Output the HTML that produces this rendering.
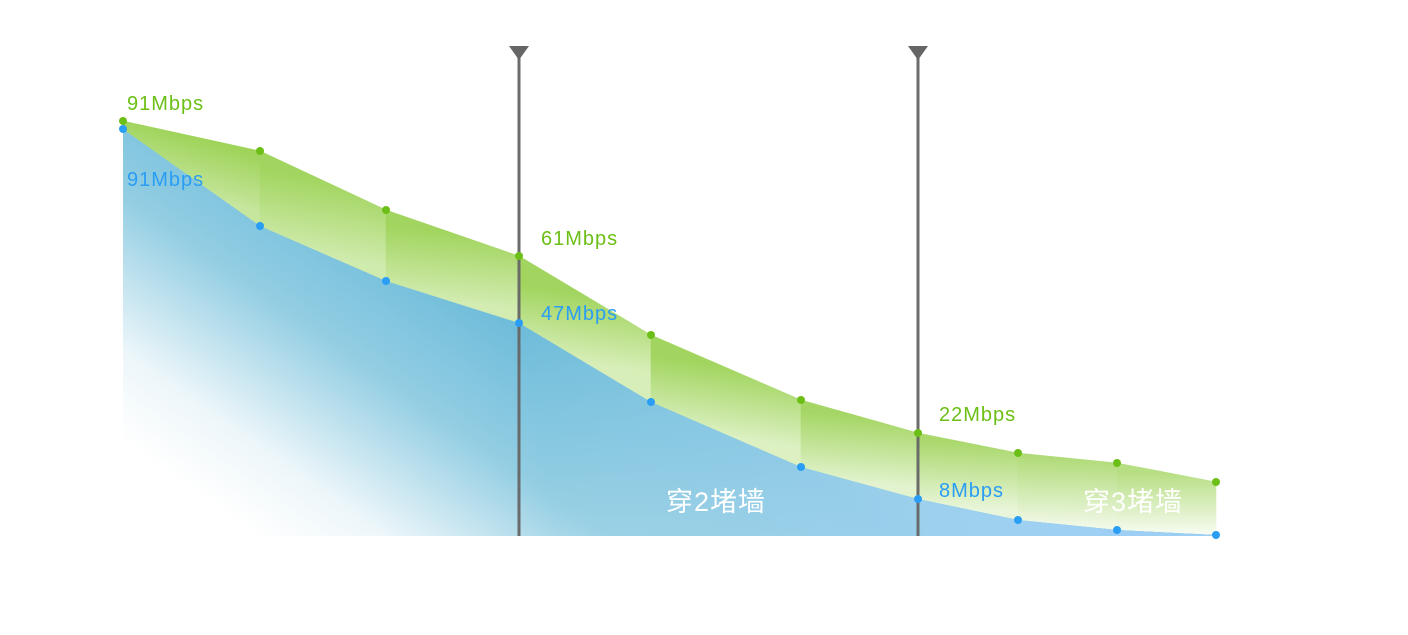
<!DOCTYPE html>
<html><head><meta charset="utf-8"><style>
html,body{margin:0;padding:0;background:#fff;width:1408px;height:635px;overflow:hidden}
svg text{font-family:"Liberation Sans","Noto Sans CJK SC",sans-serif;}
</style></head><body>
<svg width="1408" height="635" viewBox="0 0 1408 635">
<defs>
<linearGradient id="b" gradientUnits="userSpaceOnUse" x1="250" y1="530" x2="460" y2="230">
<stop offset="0" stop-color="#ffffff"/><stop offset="0.2" stop-color="#eaf5f9"/><stop offset="0.55" stop-color="#80c5de"/><stop offset="1" stop-color="#45a9d0"/>
</linearGradient>
<linearGradient id="b2" gradientUnits="userSpaceOnUse" x1="560" y1="560" x2="1100" y2="470">
<stop offset="0" stop-color="#ffffff" stop-opacity="0.15"/><stop offset="1" stop-color="#9dcff5" stop-opacity="1"/>
</linearGradient>
<linearGradient id="s1" gradientUnits="userSpaceOnUse" x1="190" y1="136" x2="175" y2="190"><stop offset="0" stop-color="#9fd35a"/><stop offset="1" stop-color="#c6e69e"/></linearGradient>
<linearGradient id="s2" gradientUnits="userSpaceOnUse" x1="323" y1="180" x2="310" y2="254"><stop offset="0" stop-color="#a2d560"/><stop offset="1" stop-color="#d0ebae"/></linearGradient>
<linearGradient id="s3" gradientUnits="userSpaceOnUse" x1="452" y1="233" x2="445" y2="302"><stop offset="0" stop-color="#a2d560"/><stop offset="1" stop-color="#d3ecb2"/></linearGradient>
<linearGradient id="s4" gradientUnits="userSpaceOnUse" x1="585" y1="295" x2="575" y2="362"><stop offset="0" stop-color="#a2d560"/><stop offset="1" stop-color="#d8eeb9"/></linearGradient>
<linearGradient id="s5" gradientUnits="userSpaceOnUse" x1="726" y1="367" x2="716" y2="435"><stop offset="0" stop-color="#a2d560"/><stop offset="1" stop-color="#dcf0c2"/></linearGradient>
<linearGradient id="s6" gradientUnits="userSpaceOnUse" x1="860" y1="416" x2="855" y2="483"><stop offset="0" stop-color="#a5d665"/><stop offset="1" stop-color="#e3f3cf"/></linearGradient>
<linearGradient id="s7" gradientUnits="userSpaceOnUse" x1="968" y1="443" x2="965" y2="510"><stop offset="0" stop-color="#aad86d"/><stop offset="1" stop-color="#eaf6dc"/></linearGradient>
<linearGradient id="s8" gradientUnits="userSpaceOnUse" x1="1068" y1="458" x2="1066" y2="525"><stop offset="0" stop-color="#b0db78"/><stop offset="1" stop-color="#f0f8e6"/></linearGradient>
<linearGradient id="s9" gradientUnits="userSpaceOnUse" x1="1166" y1="472" x2="1166" y2="533"><stop offset="0" stop-color="#b6de82"/><stop offset="1" stop-color="#f6fbf0"/></linearGradient>
</defs>
<g shape-rendering="geometricPrecision">
<polygon fill="url(#s1)" stroke="url(#s1)" stroke-width="0.6" points="123,121 260,151 260,226 123,129"/>
<polygon fill="url(#s2)" stroke="url(#s2)" stroke-width="0.6" points="260,151 386,210 386,281 260,226"/>
<polygon fill="url(#s3)" stroke="url(#s3)" stroke-width="0.6" points="386,210 519,256 519,323 386,281"/>
<polygon fill="url(#s4)" stroke="url(#s4)" stroke-width="0.6" points="519,256 651,335 651,402 519,323"/>
<polygon fill="url(#s5)" stroke="url(#s5)" stroke-width="0.6" points="651,335 801,400 801,467 651,402"/>
<polygon fill="url(#s6)" stroke="url(#s6)" stroke-width="0.6" points="801,400 918,433 918,499 801,467"/>
<polygon fill="url(#s7)" stroke="url(#s7)" stroke-width="0.6" points="918,433 1018,453 1018,520 918,499"/>
<polygon fill="url(#s8)" stroke="url(#s8)" stroke-width="0.6" points="1018,453 1117,463 1117,530 1018,520"/>
<polygon fill="url(#s9)" stroke="url(#s9)" stroke-width="0.6" points="1117,463 1216,482 1216,535 1117,530"/>
</g>
<polygon fill="url(#b)" points="123,129 260,226 386,281 519,323 651,402 801,467 918,499 1018,520 1117,530 1216,535 1216,536 123,536"/>
<polygon fill="url(#b2)" points="123,129 260,226 386,281 519,323 651,402 801,467 918,499 1018,520 1117,530 1216,535 1216,536 123,536"/>
<g stroke="#666" stroke-width="3" opacity="0.95">
<line x1="519" y1="52" x2="519" y2="536"/><line x1="918" y1="52" x2="918" y2="536"/>
</g>
<polygon fill="#666" points="509,46 529,46 519,60"/>
<polygon fill="#666" points="908,46 928,46 918,60"/>
<g fill="#6cbf16">
<circle cx="123" cy="121" r="4"/><circle cx="260" cy="151" r="4"/><circle cx="386" cy="210" r="4"/><circle cx="519" cy="256" r="4"/><circle cx="651" cy="335" r="4"/><circle cx="801" cy="400" r="4"/><circle cx="918" cy="433" r="4"/><circle cx="1018" cy="453" r="4"/><circle cx="1117" cy="463" r="4"/><circle cx="1216" cy="482" r="4"/>
</g>
<g fill="#2a9df4">
<circle cx="123" cy="129" r="4"/><circle cx="260" cy="226" r="4"/><circle cx="386" cy="281" r="4"/><circle cx="519" cy="323" r="4"/><circle cx="651" cy="402" r="4"/><circle cx="801" cy="467" r="4"/><circle cx="918" cy="499" r="4"/><circle cx="1018" cy="520" r="4"/><circle cx="1117" cy="530" r="4"/><circle cx="1216" cy="535" r="4"/>
</g>
<g font-size="20" fill="#6cbf16" letter-spacing="1">
<text x="127" y="110">91Mbps</text><text x="541" y="245">61Mbps</text><text x="939" y="421">22Mbps</text>
</g>
<g font-size="20" fill="#2a9df4" letter-spacing="1">
<text x="127" y="186">91Mbps</text><text x="541" y="320">47Mbps</text><text x="939" y="497">8Mbps</text>
</g>
<g font-size="27" fill="#fff" letter-spacing="1">
<text x="666" y="511">穿2堵墙</text><text x="1083" y="511">穿3堵墙</text>
</g>
</svg>
</body></html>
